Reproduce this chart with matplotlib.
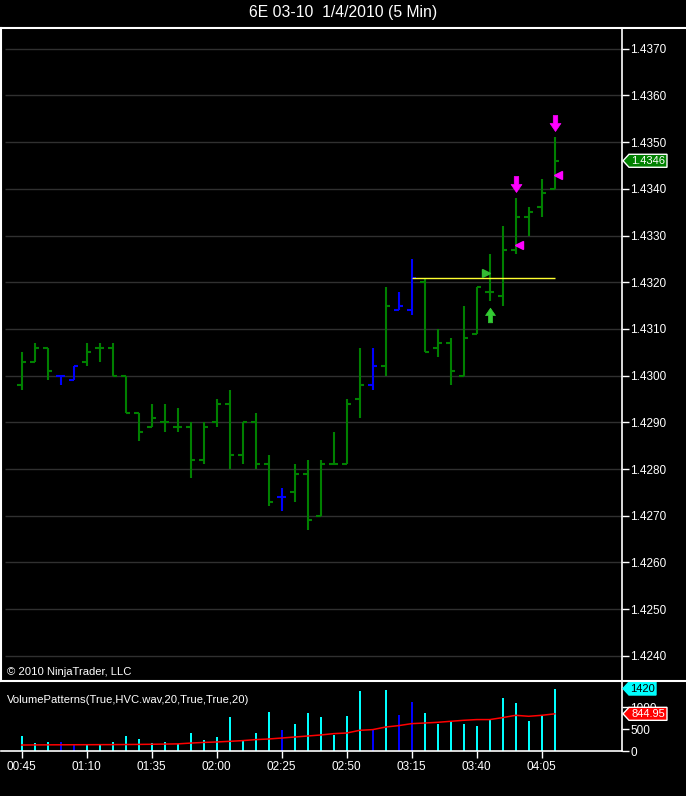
import numpy as np
import matplotlib
matplotlib.use('Agg')
import matplotlib.pyplot as plt
from matplotlib.path import Path
from matplotlib.patches import Polygon
from matplotlib.lines import Line2D
from matplotlib.transforms import IdentityTransform

plt.rcParams['font.family'] = ['Liberation Sans', 'DejaVu Sans']

### Data
title = '6E 03-10  1/4/2010 (5 Min)'
opens  = [1.4298, 1.4303, 1.4306, 1.4300, 1.4299, 1.4303, 1.4306, 1.4306, 1.4300, 1.4292,
          1.4289, 1.4290, 1.4289, 1.4289, 1.4282, 1.4290, 1.4294, 1.4283, 1.4290, 1.4281,
          1.4274, 1.4275, 1.4279, 1.4270, 1.4281, 1.4281, 1.4295, 1.4298, 1.4302, 1.4314,
          1.4314, 1.4320, 1.4306, 1.4307, 1.4300, 1.4309, 1.4318, 1.4317, 1.4327, 1.4334,
          1.4336, 1.4340]
highs  = [1.4305, 1.4307, 1.4306, 1.4300, 1.4302, 1.4307, 1.4307, 1.4307, 1.4300, 1.4292,
          1.4294, 1.4294, 1.4293, 1.4290, 1.4290, 1.4295, 1.4297, 1.4290, 1.4292, 1.4283,
          1.4276, 1.4281, 1.4282, 1.4282, 1.4288, 1.4295, 1.4306, 1.4306, 1.4319, 1.4318,
          1.4325, 1.4321, 1.4310, 1.4308, 1.4315, 1.4319, 1.4326, 1.4332, 1.4338, 1.4336,
          1.4342, 1.4351]
lows   = [1.4297, 1.4303, 1.4299, 1.4298, 1.4299, 1.4302, 1.4303, 1.4300, 1.4292, 1.4286,
          1.4289, 1.4288, 1.4288, 1.4278, 1.4281, 1.4289, 1.4280, 1.4281, 1.4280, 1.4272,
          1.4271, 1.4273, 1.4267, 1.4270, 1.4281, 1.4281, 1.4291, 1.4297, 1.4300, 1.4314,
          1.4313, 1.4305, 1.4304, 1.4298, 1.4300, 1.4309, 1.4316, 1.4315, 1.4326, 1.4330,
          1.4334, 1.4340]
closes = [1.4303, 1.4306, 1.4301, 1.4300, 1.4302, 1.4305, 1.4306, 1.4300, 1.4292, 1.4288,
          1.4291, 1.4290, 1.4289, 1.4282, 1.4289, 1.4294, 1.4283, 1.4290, 1.4281, 1.4273,
          1.4274, 1.4279, 1.4269, 1.4281, 1.4281, 1.4294, 1.4298, 1.4302, 1.4315, 1.4315,
          1.4321, 1.4305, 1.4307, 1.4301, 1.4308, 1.4319, 1.4318, 1.4327, 1.4334, 1.4335,
          1.4339, 1.4346]
volume = [334, 175, 198, 198, 152, 152, 152, 198, 334, 266, 175, 198, 152, 402, 243, 311,
          766, 243, 402, 880, 470, 606, 857, 766, 357, 789, 1357, 486, 1380, 811, 1107, 857,
          606, 652, 606, 561, 698, 1198, 1084, 675, 811, 1420]
vol_avg = [136, 138, 140, 141, 142, 143, 144, 145, 147, 150, 153, 157, 162, 180, 195, 205,
           220, 236, 259, 273, 295, 318, 341, 364, 395, 409, 470, 486, 545, 577, 622, 636,
           652, 675, 698, 714, 714, 759, 811, 789, 811, 844.95]
pattern_bars = [3, 4, 20, 27, 29, 30]   # bars flagged by VolumePatterns (blue)
time_labels = ['00:45', '01:10', '01:35', '02:00', '02:25', '02:50', '03:15', '03:40', '04:05']
price_ticks = [1.4240, 1.4250, 1.4260, 1.4270, 1.4280, 1.4290, 1.4300, 1.4310,
               1.4320, 1.4330, 1.4340, 1.4350, 1.4360, 1.4370]
vol_ticks = [0, 500, 1000]

# signals
short_arrow_bars = [38, 41]; short_arrow_prices = [1.4341, 1.4354]
short_fill_bars = [38, 41]; short_fill_prices = [1.4328, 1.4343]
long_arrow_bars = [36]; long_arrow_prices = [1.4313]
long_fill_bars = [36]; long_fill_prices = [1.4322]
level_start, level_end, level_price = 30, 41, 1.4321

#######################################################################################################

W, H = 686, 796
fig = plt.figure(figsize=(W/100, H/100), dpi=100, facecolor='black')

n = len(opens)
x = np.arange(n)
bar_cols = ['#0000ff' if i in pattern_bars else '#008000' for i in range(n)]
vol_cols = ['#0000ff' if i in pattern_bars else '#00ffff' for i in range(n)]

# pixel geometry: bar 0 at x=21.7px, 13px per bar
x0 = (1 - 21.7) / 13; x1 = (622 - 21.7) / 13
ppx = 46700.0   # px per price unit

ax = fig.add_axes([1/W, 1-681/H, 621/W, 653/H], facecolor='black')
ax.set_xlim(x0, x1)
ax.set_ylim(1.4370 - (681-48.7)/ppx, 1.4370 + (48.7-28)/ppx)
ax.hlines(price_ticks, (5-21.7)/13, x1, color='#303030', lw=1, zorder=0)

lw = 1.5
ax.vlines(x, lows, highs, colors=bar_cols, lw=lw, zorder=2)
ax.hlines(opens, x - 0.36, x, colors=bar_cols, lw=lw, zorder=2)
ax.hlines(closes, x, x + 0.36, colors=bar_cols, lw=lw, zorder=2)

ax.hlines(level_price, level_start, level_end, color='#ffff30', lw=1, zorder=3)

down_arrow = Path([(-0.14, 0.5), (0.14, 0.5), (0.14, 0.0), (0.34, 0.0), (0, -0.5),
                   (-0.34, 0.0), (-0.14, 0.0), (-0.14, 0.5)], closed=True)
up_arrow = Path([(-0.14, -0.5), (0.14, -0.5), (0.14, 0.0), (0.34, 0.0), (0, 0.5),
                 (-0.34, 0.0), (-0.14, 0.0), (-0.14, -0.5)], closed=True)
ax.plot(short_arrow_bars, short_arrow_prices, ls='none', marker=down_arrow, ms=11.5,
        mfc='#ff00ff', mec='#ff00ff', mew=0.5, zorder=4)
ax.plot(long_arrow_bars, long_arrow_prices, ls='none', marker=up_arrow, ms=10.5,
        mfc='#33cc33', mec='#33cc33', mew=0.5, zorder=4)
ax.plot(np.array(short_fill_bars) + 0.25, short_fill_prices, ls='none', marker='<', ms=5.5,
        mfc='#ff00ff', mec='#ff00ff', zorder=4)
ax.plot(np.array(long_fill_bars) - 0.25, long_fill_prices, ls='none', marker='>', ms=5.5,
        mfc='#33bb33', mec='#33bb33', zorder=4)

for s in ['top', 'bottom']:
	ax.spines[s].set_visible(False)
ax.spines['left'].set_color('white'); ax.spines['left'].set_linewidth(1.5)
ax.spines['right'].set_color('white'); ax.spines['right'].set_linewidth(1.2)
ax.yaxis.tick_right()
ax.set_yticks(price_ticks)
ax.set_yticklabels(['%.4f' % p for p in price_ticks])
ax.tick_params(axis='y', colors='white', length=5, width=1, labelsize=8.5, pad=1)
ax.set_xticks([])

# Volume panel
vax = fig.add_axes([1/W, 1-751/H, 621/W, 69/H], facecolor='black')
vax.set_xlim(x0, x1)
vax.set_ylim(0, 69/0.044)
vax.bar(x, volume, width=2/13, color=vol_cols, zorder=2)
vax.plot(x, vol_avg, color='#ff0000', lw=1.1, zorder=3)
for s in ['top', 'left']:
	vax.spines[s].set_visible(False)
for s in ['bottom', 'right']:
	vax.spines[s].set_color('white'); vax.spines[s].set_linewidth(1.2)
vax.yaxis.tick_right()
vax.set_yticks(vol_ticks)
vax.set_yticklabels([str(v) for v in vol_ticks])
vax.set_xticks(np.arange(0, 5*len(time_labels), 5))
vax.set_xticklabels(time_labels)
vax.tick_params(colors='white', length=5, width=1, labelsize=8.5, pad=2)
vax.tick_params(axis='y', pad=1)

# separators and texts
fig.add_artist(Line2D([0, 1], [1-27.5/H, 1-27.5/H], color='white', lw=1.5, transform=fig.transFigure))
fig.add_artist(Line2D([0, 1], [1-681/H, 1-681/H], color='white', lw=1.5, transform=fig.transFigure))
fig.text(343/W, 1-13/H, title, ha='center', va='center', color='white', fontsize=11.3)
fig.text(7/W, 1-672/H, '\u00a9 2010 NinjaTrader, LLC', ha='left', va='center', color='white', fontsize=8.1)
fig.text(7/W, 1-700/H, 'VolumePatterns(True,HVC.wav,20,True,True,20)', ha='left', va='center',
         color='white', fontsize=8.1)

# value tags on the right axis
def tag(a, yval, txt, fc, ec, tc, width):
	yd = a.transData.transform((0, yval))[1]
	xl = a.transAxes.transform((1, 0))[0] + 1
	h = 6.5
	verts = [(xl, yd), (xl + 6, yd + h), (xl + width, yd + h), (xl + width, yd - h), (xl + 6, yd - h)]
	fig.add_artist(Polygon(verts, closed=True, fc=fc, ec=ec, lw=1, transform=IdentityTransform()))
	fig.text(xl + 6 + (width - 6)/2, yd, txt, ha='center', va='center', color=tc, fontsize=8,
	         transform=IdentityTransform())

tag(ax, closes[-1], '%.4f' % closes[-1], '#008000', 'white', 'white', 44)
tag(vax, volume[-1], str(volume[-1]), '#00ffff', '#00ffff', 'black', 33)
tag(vax, vol_avg[-1], '%.2f' % vol_avg[-1], '#ff0000', 'white', 'white', 44)

plt.savefig('out.png', dpi=100, facecolor='black')
